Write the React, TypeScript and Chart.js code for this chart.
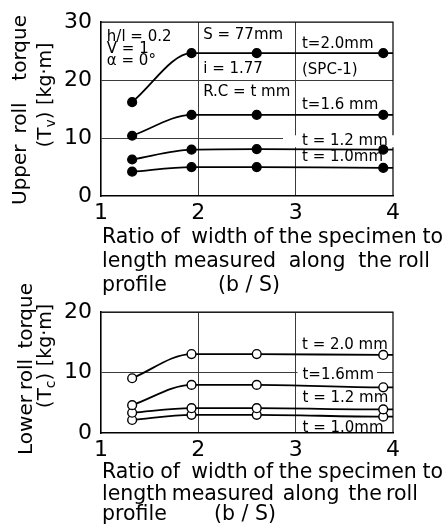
import React, { useEffect, useRef } from "react";
import { Chart, registerables } from "chart.js";

Chart.register(...registerables);

// ---------- data ----------
// b/S positions of the measured points; the last entry is where each line meets the right border
const B_OVER_S = [1.32, 1.93, 2.6, 3.9, 4.0];
const POINT_SHOWN = [true, true, true, true, false];

// Upper roll torque Tv (kg·m)
const TV_T20 = [16.2, 24.65, 24.65, 24.65, 24.65];
const TV_T16 = [10.4, 14.0, 14.0, 14.0, 14.0];
const TV_T12 = [6.3, 8.0, 8.1, 8.0, 8.0];
const TV_T10 = [4.2, 5.0, 5.0, 4.85, 4.85];

// Lower roll torque Tc (kg·m)
const TC_T20 = [9.05, 13.05, 13.05, 12.9, 12.9];
const TC_T16 = [4.6, 7.95, 7.95, 7.55, 7.55];
const TC_T12 = [3.35, 4.1, 4.1, 3.9, 3.9];
const TC_T10 = [2.15, 3.0, 3.0, 2.7, 2.7];

const X_TICKS = [1, 2, 3, 4];
const TV_TICKS = [0, 10, 20, 30];
const TC_TICKS = [0, 10, 20];
const X_GRID = [2, 3];
const Y_GRID = [10, 20];

const X_TITLE = ["Ratio of  width of the specimen to", "length measured  along  the roll", "profile"];
const X_TITLE_TAIL = "(b / S)";
const TV_TITLE = "Upper roll  torque";
const TC_TITLE = "Lower roll  torque";
const UNIT = "[kg·m]";

const TV_NOTES = [
  { text: "h/l = 0.2", x: 1.06, y: 27.35 },
  { text: "V = 1", x: 1.06, y: 25.36 },
  { text: "α = 0°", x: 1.06, y: 23.2 },
  { text: "S = 77mm", x: 2.05, y: 27.7 },
  { text: "i = 1.77", x: 2.05, y: 21.9 },
  { text: "R.C = t mm", x: 2.05, y: 17.9 },
  { text: "t=2.0mm", x: 3.065, y: 26.2 },
  { text: "(SPC-1)", x: 3.065, y: 21.7 },
  { text: "t=1.6 mm", x: 3.065, y: 15.75 },
  { text: "t = 1.2 mm", x: 3.065, y: 9.45, bg: [19, 13] },
  { text: "t = 1.0mm", x: 3.065, y: 6.63 },
];
const TC_NOTES = [
  { text: "t = 2.0 mm", x: 3.065, y: 14.55 },
  { text: "t=1.6mm", x: 3.07, y: 9.6, bg: [5, 3] },
  { text: "t = 1.2 mm", x: 3.07, y: 5.8 },
  { text: "t = 1.0mm", x: 3.07, y: 0.83 },
];

// ---------- styling ----------
const FONT = '"DejaVu Sans", "Liberation Sans", sans-serif';

function spacedText(ctx: CanvasRenderingContext2D, text: string, target?: number) {
  (ctx as any).wordSpacing = "0px";
  if (!target) return;
  const w = ctx.measureText(text).width;
  const n = (text.match(/ /g) || []).length;
  if (n) (ctx as any).wordSpacing = (target - w) / n + "px";
}

type Layout = {
  id: string;
  notes: any[];
  title: string;
  sub: string;
  titleLines: { dy: number; width: number }[];
  tailX: number;
  yTitle: { x1: number; c1: number; len1: number; x2: number; c2: number };
};

function decor(L: Layout) {
  return {
    id: "decor_" + L.id,
    beforeDatasetsDraw(chart: any) {
      const { ctx, chartArea: a, scales } = chart;
      ctx.save();
      ctx.strokeStyle = "#000";
      ctx.lineWidth = 1.2;
      ctx.beginPath();
      ctx.moveTo(a.left, a.top);
      ctx.lineTo(a.right, a.top);
      ctx.lineTo(a.right, a.bottom);
      ctx.stroke();
      ctx.font = `15px ${FONT}`;
      ctx.textBaseline = "middle";
      ctx.textAlign = "left";
      for (const n of L.notes) {
        const px = scales.x.getPixelForValue(n.x);
        const py = scales.y.getPixelForValue(n.y);
        const w = ctx.measureText(n.text).width;
        if (n.bg) {
          ctx.fillStyle = "#fff";
          ctx.fillRect(px - n.bg[0], py - 6, w + n.bg[0] + n.bg[1], 12);
        }
        ctx.fillStyle = "#000";
        ctx.fillText(n.text, px, py);
      }
      ctx.restore();
    },
    afterDraw(chart: any) {
      const { ctx, chartArea: a } = chart;
      ctx.save();
      ctx.fillStyle = "#000";
      // x-axis title
      ctx.font = `20.5px ${FONT}`;
      ctx.textAlign = "left";
      ctx.textBaseline = "alphabetic";
      X_TITLE.forEach((t, i) => {
        const ln = L.titleLines[i];
        spacedText(ctx, t, i < 2 ? ln.width : 0);
        ctx.fillText(t, a.left + 1, a.bottom + ln.dy);
      });
      spacedText(ctx, X_TITLE_TAIL, 0);
      ctx.fillText(X_TITLE_TAIL, L.tailX, a.bottom + L.titleLines[2].dy);
      // y-axis title (rotated)
      const Y = L.yTitle;
      ctx.save();
      ctx.translate(Y.x1, Y.c1);
      ctx.rotate(-Math.PI / 2);
      ctx.font = `20px ${FONT}`;
      ctx.textAlign = "center";
      spacedText(ctx, L.title, Y.len1);
      ctx.fillText(L.title, 0, 0);
      ctx.restore();
      // second line: (T_sub) [kg·m]
      ctx.save();
      ctx.translate(Y.x2, Y.c2);
      ctx.rotate(-Math.PI / 2);
      ctx.textAlign = "left";
      (ctx as any).wordSpacing = "0px";
      const pieces = [
        { t: "(T", f: 20, dy: 0 },
        { t: L.sub, f: 14, dy: 4 },
        { t: ") ", f: 20, dy: 0 },
        { t: UNIT, f: 19, dy: 0 },
      ];
      let total = 0;
      for (const p of pieces) {
        ctx.font = `${p.f}px ${FONT}`;
        total += ctx.measureText(p.t).width;
      }
      let cx = -total / 2;
      for (const p of pieces) {
        ctx.font = `${p.f}px ${FONT}`;
        ctx.fillText(p.t, cx, p.dy);
        cx += ctx.measureText(p.t).width;
      }
      ctx.restore();
      ctx.restore();
    },
  };
}

function makeConfig(
  series: number[][],
  filled: boolean,
  yTicks: number[],
  top: number,
  xHeight: number,
  L: Layout
) {
  const gridColor = (vals: number[]) => (c: any) =>
    c.tick && vals.includes(c.tick.value) ? "#3a3a3a" : "rgba(0,0,0,0)";
  return {
    type: "line",
    data: {
      datasets: series.map((s) => ({
        data: B_OVER_S.map((x, i) => ({ x, y: s[i] })),
        borderColor: "#000",
        borderWidth: 1.8,
        pointRadius: POINT_SHOWN.map((v) => (v ? 4.4 : 0)),
        pointBackgroundColor: filled ? "#000" : "#fff",
        pointBorderColor: "#000",
        pointBorderWidth: 1.4,
        cubicInterpolationMode: "monotone",
        fill: false,
      })),
    },
    options: {
      responsive: false,
      animation: false,
      events: [],
      layout: { padding: { top, right: 51, left: 0, bottom: 0 } },
      plugins: { legend: { display: false }, tooltip: { enabled: false } },
      scales: {
        x: {
          type: "linear",
          min: X_TICKS[0],
          max: X_TICKS[X_TICKS.length - 1],
          afterBuildTicks: (s: any) => {
            s.ticks = X_TICKS.map((v) => ({ value: v }));
          },
          afterFit: (s: any) => {
            s.height = xHeight;
          },
          ticks: {
            color: "#000",
            font: { family: FONT, size: 22 },
            padding: 4,
            maxRotation: 0,
            autoSkip: false,
          },
          grid: { color: gridColor(X_GRID), lineWidth: 1, drawTicks: false },
          border: { display: true, color: "#000", width: 1.6 },
        },
        y: {
          type: "linear",
          min: yTicks[0],
          max: yTicks[yTicks.length - 1],
          afterBuildTicks: (s: any) => {
            s.ticks = yTicks.map((v) => ({ value: v }));
          },
          afterFit: (s: any) => {
            s.width = 101;
          },
          ticks: {
            color: "#000",
            font: { family: FONT, size: 22 },
            padding: 9,
            autoSkip: false,
          },
          grid: { color: gridColor(Y_GRID), lineWidth: 1, drawTicks: false },
          border: { display: true, color: "#000", width: 1.6 },
        },
      },
    },
    plugins: [decor(L)],
  } as any;
}

const UPPER_LAYOUT: Layout = {
  id: "tv",
  notes: TV_NOTES,
  title: TV_TITLE,
  sub: "v",
  titleLines: [
    { dy: 47, width: 341 },
    { dy: 71, width: 328 },
    { dy: 95, width: 0 },
  ],
  tailX: 218,
  yTitle: { x1: 26, c1: 110, len1: 190, x2: 51, c2: 95 },
};

const LOWER_LAYOUT: Layout = {
  id: "tc",
  notes: TC_NOTES,
  title: TC_TITLE,
  sub: "c",
  titleLines: [
    { dy: 45, width: 341 },
    { dy: 67, width: 316 },
    { dy: 87, width: 0 },
  ],
  tailX: 214,
  yTitle: { x1: 32, c1: 99, len1: 172, x2: 51, c2: 86 },
};

export default function App() {
  const upRef = useRef<HTMLCanvasElement>(null);
  const loRef = useRef<HTMLCanvasElement>(null);

  useEffect(() => {
    const up = new Chart(
      upRef.current!,
      makeConfig([TV_T20, TV_T16, TV_T12, TV_T10], true, TV_TICKS, 15, 104, UPPER_LAYOUT)
    );
    const lo = new Chart(
      loRef.current!,
      makeConfig([TC_T20, TC_T16, TC_T12, TC_T10], false, TC_TICKS, 42, 95, LOWER_LAYOUT)
    );
    return () => {
      up.destroy();
      lo.destroy();
    };
  }, []);

  return (
    <div
      style={{
        position: "fixed",
        left: 0,
        top: 0,
        width: 444,
        height: 528,
        background: "#fff",
        overflow: "hidden",
      }}
    >
      <canvas
        ref={upRef}
        width={444}
        height={300}
        style={{ position: "absolute", left: 0, top: 0, width: 444, height: 300 }}
      />
      <canvas
        ref={loRef}
        width={444}
        height={258}
        style={{ position: "absolute", left: 0, top: 270, width: 444, height: 258 }}
      />
    </div>
  );
}
